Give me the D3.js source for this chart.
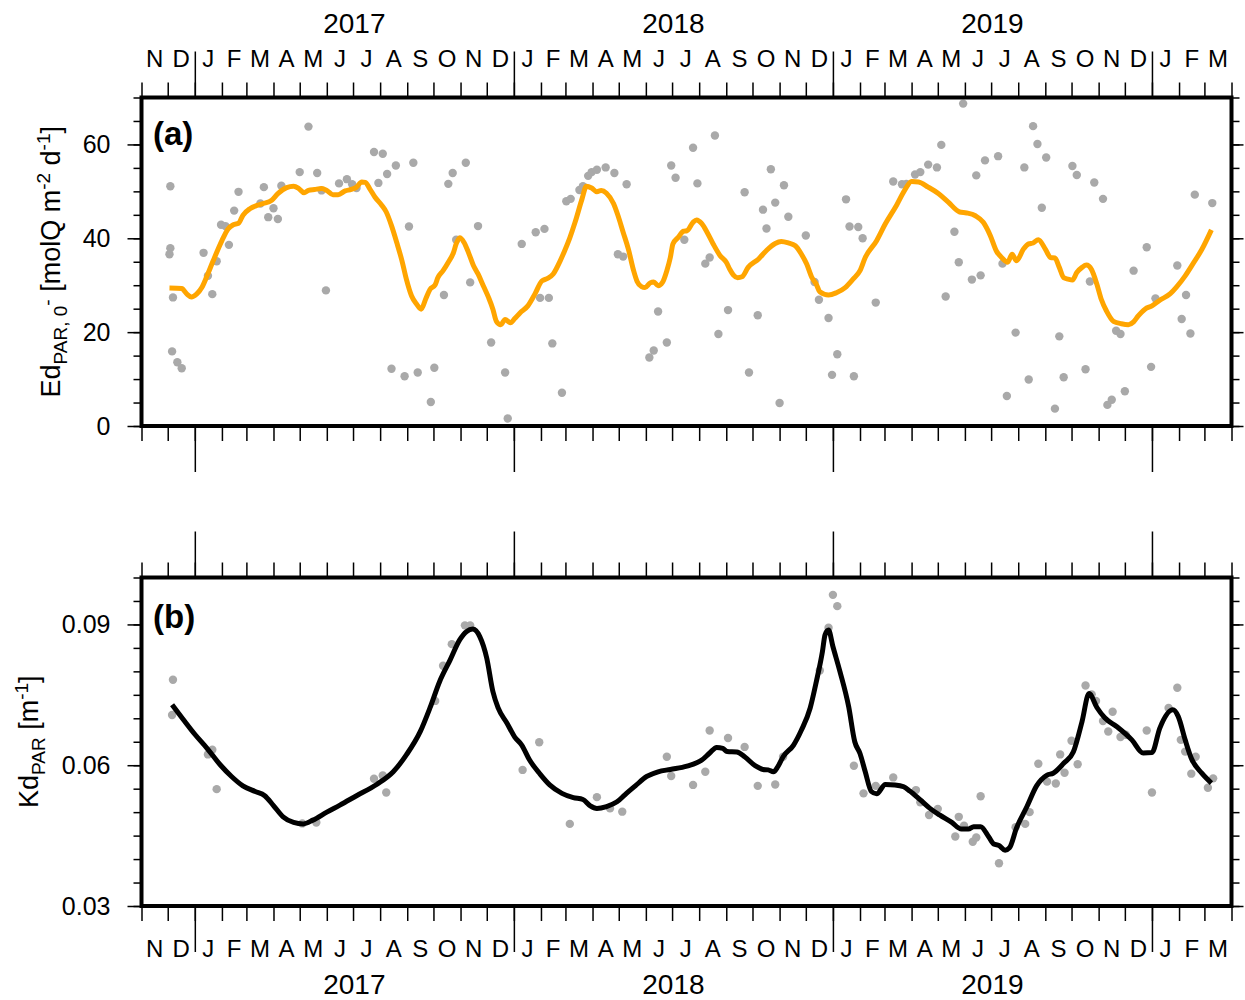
<!DOCTYPE html>
<html>
<head>
<meta charset="utf-8">
<script src="https://cdn.jsdelivr.net/npm/d3@7"></script>
<style>
    body { margin: 0; background: #fff; }
    svg { display: block; font-family: "Liberation Sans", Arial, Helvetica, sans-serif; }
</style>
</head>
<body>
<svg id="chart" width="1245" height="1000"></svg>
<script>
// Ed_PAR,0- : отдельные измерения (серые точки)
const edDotDates = [
    "2016-12-04", "2016-12-04", "2016-12-03", "2016-12-07", "2016-12-06", "2016-12-12", "2016-12-17",
    "2017-01-11", "2017-01-16", "2017-01-21", "2017-01-26", "2017-01-31", "2017-02-05", "2017-02-09",
    "2017-02-15", "2017-02-20", "2017-03-17", "2017-03-21", "2017-03-26", "2017-04-01", "2017-04-06",
    "2017-04-10", "2017-05-01", "2017-05-11", "2017-05-21", "2017-05-26", "2017-05-31", "2017-06-15",
    "2017-06-24", "2017-06-30", "2017-07-05", "2017-07-25", "2017-07-30", "2017-08-04", "2017-08-09",
    "2017-08-14", "2017-08-19", "2017-08-29", "2017-09-03", "2017-09-08", "2017-09-13", "2017-09-28",
    "2017-10-02", "2017-10-13", "2017-10-18", "2017-10-23", "2017-10-27", "2017-11-07", "2017-11-12",
    "2017-11-21", "2017-12-06", "2017-12-22", "2017-12-25", "2018-01-10", "2018-01-26", "2018-01-31",
    "2018-02-05", "2018-02-10", "2018-02-14", "2018-02-25", "2018-03-02", "2018-03-07", "2018-03-17",
    "2018-03-21", "2018-03-27", "2018-03-31", "2018-04-06", "2018-04-16", "2018-04-26", "2018-04-30",
    "2018-05-06", "2018-05-10", "2018-06-05", "2018-06-10", "2018-06-15", "2018-06-25", "2018-06-30",
    "2018-07-05", "2018-07-15", "2018-07-25", "2018-07-30", "2018-08-08", "2018-08-13", "2018-08-19",
    "2018-08-23", "2018-09-03", "2018-09-22", "2018-09-27", "2018-10-07", "2018-10-13", "2018-10-17",
    "2018-10-22", "2018-10-27", "2018-11-01", "2018-11-06", "2018-11-11", "2018-12-01", "2018-12-11",
    "2018-12-16", "2018-12-27", "2018-12-31", "2019-01-06", "2019-01-16", "2019-01-20", "2019-01-25",
    "2019-01-30", "2019-02-04", "2019-02-19", "2019-03-11", "2019-03-21", "2019-03-26", "2019-04-05",
    "2019-04-11", "2019-04-20", "2019-04-30", "2019-05-05", "2019-05-10", "2019-05-20", "2019-05-25",
    "2019-05-30", "2019-06-09", "2019-06-14", "2019-06-19", "2019-06-24", "2019-07-09", "2019-07-14",
    "2019-07-19", "2019-07-29", "2019-08-08", "2019-08-13", "2019-08-18", "2019-08-23", "2019-08-28",
    "2019-09-02", "2019-09-12", "2019-09-17", "2019-09-22", "2019-10-02", "2019-10-07", "2019-10-17",
    "2019-10-22", "2019-10-27", "2019-11-06", "2019-11-11", "2019-11-16", "2019-11-21", "2019-11-26",
    "2019-12-01", "2019-12-11", "2019-12-26", "2019-12-31", "2020-01-05", "2020-01-30", "2020-02-04",
    "2020-02-09", "2020-02-14", "2020-02-19", "2020-03-10"
];
const edDotValues = [
    51.1, 37.9, 36.6, 27.4, 15.9, 13.6, 12.3,
    36.9, 32.0, 28.1, 35.1, 42.9, 42.6, 38.6,
    45.9, 49.9, 47.4, 50.9, 44.5, 46.4, 44.1,
    51.2, 54.1, 63.8, 53.9, 50.2, 28.9, 51.7,
    52.6, 51.5, 50.7, 58.4, 51.8, 58.0, 53.7,
    12.2, 55.5, 10.6, 42.5, 56.1, 11.4, 5.1,
    12.4, 27.9, 51.6, 53.9, 39.7, 56.1, 30.6,
    42.6, 17.8, 11.4, 1.6, 38.8, 41.3, 27.3,
    42.0, 27.3, 17.6, 7.1, 47.9, 48.4, 50.3,
    51.1, 53.3, 54.1, 54.6, 55.1, 53.9, 36.6,
    36.1, 51.5, 14.6, 16.1, 24.4, 17.8, 55.5,
    52.9, 39.7, 59.3, 51.7, 34.6, 35.9, 61.9,
    19.6, 24.7, 49.8, 11.4, 23.6, 46.1, 42.1,
    54.7, 47.6, 4.9, 51.3, 44.6, 40.6, 30.7,
    26.9, 23.0, 10.9, 15.3, 48.3, 42.5, 10.6,
    42.4, 40.0, 26.3, 52.1, 51.5, 51.6, 53.6,
    54.1, 55.7, 55.1, 59.9, 27.6, 41.4, 34.9,
    68.7, 31.2, 53.4, 32.1, 56.6, 57.5, 34.6,
    6.4, 19.9, 55.1, 9.9, 63.9, 60.1, 46.5,
    57.2, 3.7, 19.1, 10.4, 55.4, 53.5, 12.1,
    30.8, 51.9, 48.4, 4.5, 5.6, 20.3, 19.6,
    7.4, 33.1, 38.1, 12.6, 27.2, 34.2, 22.8,
    27.9, 19.7, 49.3, 47.5
];

// Ed_PAR,0- : скользящее среднее (оранжевая линия)
const edLineDates = [
    "2016-12-03", "2016-12-17", "2016-12-23", "2016-12-28", "2017-01-03", "2017-01-09", "2017-01-15",
    "2017-01-22", "2017-02-01", "2017-02-08", "2017-02-14", "2017-02-20", "2017-02-25", "2017-03-05",
    "2017-03-13", "2017-03-20", "2017-03-30", "2017-04-06", "2017-04-16", "2017-04-24", "2017-04-30",
    "2017-05-06", "2017-05-11", "2017-05-18", "2017-05-26", "2017-06-01", "2017-06-08", "2017-06-14",
    "2017-06-22", "2017-06-29", "2017-07-05", "2017-07-11", "2017-07-15", "2017-07-20", "2017-07-26",
    "2017-08-03", "2017-08-08", "2017-08-14", "2017-08-20", "2017-08-26", "2017-08-31", "2017-09-06",
    "2017-09-12", "2017-09-17", "2017-09-22", "2017-09-27", "2017-10-03", "2017-10-06", "2017-10-12",
    "2017-10-18", "2017-10-24", "2017-10-27", "2017-10-31", "2017-11-05", "2017-11-10", "2017-11-16",
    "2017-11-21", "2017-11-27", "2017-12-03", "2017-12-08", "2017-12-12", "2017-12-17", "2017-12-22",
    "2017-12-28", "2018-01-02", "2018-01-08", "2018-01-17", "2018-01-25", "2018-02-02", "2018-02-08",
    "2018-02-15", "2018-02-23", "2018-02-28", "2018-03-06", "2018-03-12", "2018-03-20", "2018-03-25",
    "2018-03-31", "2018-04-06", "2018-04-11", "2018-04-17", "2018-04-25", "2018-04-30", "2018-05-06",
    "2018-05-12", "2018-05-18", "2018-05-22", "2018-05-27", "2018-05-31", "2018-06-06", "2018-06-10",
    "2018-06-15", "2018-06-20", "2018-06-25", "2018-06-29", "2018-07-02", "2018-07-08", "2018-07-14",
    "2018-07-18", "2018-07-25", "2018-07-29", "2018-08-04", "2018-08-10", "2018-08-17", "2018-08-25",
    "2018-09-01", "2018-09-05", "2018-09-09", "2018-09-14", "2018-09-19", "2018-09-26", "2018-10-08",
    "2018-10-17", "2018-10-27", "2018-11-03", "2018-11-11", "2018-11-19", "2018-11-26", "2018-12-02",
    "2018-12-08", "2018-12-13", "2018-12-17", "2018-12-27", "2019-01-05", "2019-01-15", "2019-01-24",
    "2019-02-01", "2019-02-07", "2019-02-20", "2019-03-02", "2019-03-15", "2019-03-24", "2019-04-01",
    "2019-04-09", "2019-04-20", "2019-05-02", "2019-05-13", "2019-05-26", "2019-06-03", "2019-06-13",
    "2019-06-22", "2019-06-30", "2019-07-07", "2019-07-13", "2019-07-20", "2019-07-25", "2019-07-30",
    "2019-08-07", "2019-08-13", "2019-08-18", "2019-08-24", "2019-09-01", "2019-09-07", "2019-09-12",
    "2019-09-17", "2019-09-22", "2019-09-27", "2019-10-02", "2019-10-07", "2019-10-13", "2019-10-18",
    "2019-10-24", "2019-10-30", "2019-11-04", "2019-11-10", "2019-11-18", "2019-11-27", "2019-12-05",
    "2019-12-11", "2019-12-16", "2019-12-24", "2020-01-01", "2020-01-10", "2020-01-22", "2020-01-29",
    "2020-02-08", "2020-02-17", "2020-02-27", "2020-03-09"
];
const edLineValues = [
    29.4, 29.3, 28.1, 27.5, 28.1, 29.5, 32.0,
    35.2, 39.5, 42.0, 42.9, 43.2, 44.9, 46.3,
    47.0, 47.4, 48.1, 49.5, 50.8, 51.1, 50.6,
    49.7, 50.2, 50.4, 50.6, 50.2, 49.3, 49.3,
    50.1, 50.4, 50.9, 52.0, 51.9, 50.6, 48.8,
    47.0, 45.6, 42.7, 39.1, 35.2, 31.3, 27.7,
    25.9, 24.9, 27.0, 29.1, 30.1, 31.6, 33.1,
    34.9, 37.0, 38.8, 40.1, 39.1, 37.0, 34.1,
    32.4, 29.9, 27.4, 24.9, 22.3, 21.6, 22.7,
    22.0, 22.9, 24.1, 25.6, 28.1, 30.9, 31.4,
    32.4, 35.2, 37.3, 40.1, 43.4, 48.4, 51.1,
    50.7, 49.9, 50.2, 49.6, 47.4, 44.9, 41.3,
    37.7, 33.1, 30.8, 29.7, 29.5, 30.5, 30.7,
    29.9, 30.6, 33.1, 35.9, 38.8, 40.2, 41.5,
    41.6, 43.4, 43.9, 43.1, 41.3, 38.8, 36.3,
    34.9, 33.4, 32.2, 31.6, 31.8, 33.8, 35.6,
    37.4, 38.9, 39.3, 39.0, 38.4, 36.6, 34.5,
    31.6, 30.2, 28.6, 27.9, 28.4, 29.5, 31.3,
    33.1, 35.9, 39.5, 43.1, 47.1, 50.2, 52.1,
    52.0, 50.9, 49.5, 47.7, 45.6, 45.4, 44.8,
    43.4, 40.6, 37.3, 35.9, 34.9, 36.6, 35.2,
    37.7, 38.8, 39.0, 39.7, 37.7, 35.9, 35.8,
    33.8, 31.6, 31.3, 31.1, 32.7, 33.8, 34.3,
    33.3, 30.2, 27.0, 24.5, 22.3, 21.8, 21.6,
    22.2, 23.4, 24.9, 25.6, 26.8, 28.2, 29.6,
    32.0, 34.6, 37.6, 41.8
];

// Kd_PAR : отдельные измерения
const kdDotDates = [
    "2016-12-07", "2016-12-06", "2017-01-16", "2017-01-21", "2017-01-26", "2017-05-04", "2017-05-20",
    "2017-07-25", "2017-08-04", "2017-08-08", "2017-10-03", "2017-10-12", "2017-10-22", "2017-11-06",
    "2017-11-12", "2018-01-11", "2018-01-30", "2018-03-06", "2018-04-06", "2018-04-21", "2018-05-05",
    "2018-06-25", "2018-06-30", "2018-07-25", "2018-08-08", "2018-08-13", "2018-09-03", "2018-09-22",
    "2018-10-07", "2018-10-27", "2018-11-05", "2018-12-17", "2018-12-27", "2019-01-01", "2019-01-06",
    "2019-01-25", "2019-02-05", "2019-02-19", "2019-03-11", "2019-04-06", "2019-04-11", "2019-04-21",
    "2019-05-01", "2019-05-21", "2019-05-25", "2019-05-31", "2019-06-10", "2019-06-14", "2019-06-19",
    "2019-07-10", "2019-07-29", "2019-08-09", "2019-08-14", "2019-08-24", "2019-09-03", "2019-09-13",
    "2019-09-18", "2019-09-23", "2019-10-01", "2019-10-08", "2019-10-17", "2019-10-24", "2019-10-29",
    "2019-11-06", "2019-11-12", "2019-11-17", "2019-11-26", "2019-12-02", "2019-12-26", "2020-01-01",
    "2020-01-20", "2020-01-30", "2020-02-03", "2020-02-08", "2020-02-15", "2020-02-20", "2020-03-05",
    "2020-03-11"
];
const kdDotValues = [
    0.0782, 0.0707, 0.0623, 0.0633, 0.0549, 0.0476, 0.0478,
    0.0571, 0.0578, 0.0542, 0.0737, 0.0812, 0.0858, 0.0898,
    0.0898, 0.0590, 0.0649, 0.0475, 0.0532, 0.0508, 0.0501,
    0.0618, 0.0577, 0.0558, 0.0586, 0.0674, 0.0658, 0.0639,
    0.0556, 0.0559, 0.0618, 0.0802, 0.0893, 0.0963, 0.0939,
    0.0599, 0.0540, 0.0556, 0.0574, 0.0547, 0.0521, 0.0494,
    0.0507, 0.0448, 0.0490, 0.0471, 0.0437, 0.0446, 0.0534,
    0.0391, 0.0468, 0.0475, 0.0500, 0.0603, 0.0565, 0.0561,
    0.0623, 0.0584, 0.0652, 0.0602, 0.0770, 0.0751, 0.0737,
    0.0694, 0.0672, 0.0714, 0.0660, 0.0665, 0.0674, 0.0542,
    0.0722, 0.0765, 0.0654, 0.0629, 0.0582, 0.0618, 0.0552,
    0.0572
];

// Kd_PAR : сглаженная кривая (чёрная линия)
const kdLineDates = [
    "2016-12-06", "2016-12-19", "2017-01-01", "2017-01-15", "2017-01-30", "2017-02-12", "2017-02-25",
    "2017-03-11", "2017-03-22", "2017-04-01", "2017-04-12", "2017-04-24", "2017-05-05", "2017-05-16",
    "2017-06-01", "2017-06-16", "2017-07-05", "2017-07-28", "2017-08-16", "2017-08-31", "2017-09-16",
    "2017-09-27", "2017-10-08", "2017-10-20", "2017-10-31", "2017-11-08", "2017-11-15", "2017-11-23",
    "2017-12-01", "2017-12-08", "2017-12-14", "2017-12-24", "2018-01-02", "2018-01-10", "2018-01-19",
    "2018-01-31", "2018-02-11", "2018-02-25", "2018-03-10", "2018-03-21", "2018-03-29", "2018-04-06",
    "2018-04-17", "2018-04-29", "2018-05-08", "2018-05-20", "2018-06-02", "2018-06-15", "2018-06-29",
    "2018-07-18", "2018-08-04", "2018-08-13", "2018-08-21", "2018-08-28", "2018-09-02", "2018-09-13",
    "2018-09-22", "2018-10-04", "2018-10-13", "2018-10-19", "2018-10-25", "2018-10-30", "2018-11-05",
    "2018-11-17", "2018-11-26", "2018-12-06", "2018-12-13", "2018-12-20", "2018-12-23", "2018-12-27",
    "2019-01-01", "2019-01-09", "2019-01-19", "2019-01-26", "2019-02-01", "2019-02-07", "2019-02-14",
    "2019-02-20", "2019-03-02", "2019-03-13", "2019-03-23", "2019-03-30", "2019-04-11", "2019-04-22",
    "2019-05-03", "2019-05-17", "2019-05-28", "2019-06-05", "2019-06-11", "2019-06-19", "2019-06-28",
    "2019-07-04", "2019-07-10", "2019-07-17", "2019-07-22", "2019-07-30", "2019-08-11", "2019-08-22",
    "2019-09-03", "2019-09-10", "2019-09-22", "2019-10-03", "2019-10-13", "2019-10-21", "2019-10-30",
    "2019-11-08", "2019-11-22", "2019-12-09", "2019-12-22", "2020-01-01", "2020-01-10", "2020-01-25",
    "2020-01-31", "2020-02-08", "2020-02-15", "2020-02-27", "2020-03-09"
];
const kdLineValues = [
    0.0729, 0.0697, 0.0666, 0.0636, 0.0601, 0.0576, 0.0556,
    0.0544, 0.0535, 0.0514, 0.0490, 0.0478, 0.0475, 0.0483,
    0.0500, 0.0515, 0.0535, 0.0559, 0.0586, 0.0622, 0.0672,
    0.0722, 0.0778, 0.0824, 0.0867, 0.0885, 0.0890, 0.0874,
    0.0828, 0.0757, 0.0722, 0.0690, 0.0660, 0.0643, 0.0611,
    0.0581, 0.0558, 0.0540, 0.0531, 0.0527, 0.0514, 0.0508,
    0.0512, 0.0522, 0.0537, 0.0556, 0.0576, 0.0586, 0.0591,
    0.0598, 0.0611, 0.0626, 0.0638, 0.0636, 0.0629, 0.0628,
    0.0618, 0.0599, 0.0591, 0.0590, 0.0586, 0.0597, 0.0618,
    0.0643, 0.0675, 0.0722, 0.0778, 0.0842, 0.0878, 0.0888,
    0.0853, 0.0800, 0.0725, 0.0650, 0.0625, 0.0586, 0.0544,
    0.0539, 0.0559, 0.0558, 0.0554, 0.0545, 0.0526, 0.0508,
    0.0494, 0.0478, 0.0464, 0.0464, 0.0469, 0.0469, 0.0448,
    0.0432, 0.0429, 0.0419, 0.0424, 0.0466, 0.0512, 0.0556,
    0.0579, 0.0583, 0.0604, 0.0628, 0.0693, 0.0753, 0.0723,
    0.0701, 0.0682, 0.0654, 0.0626, 0.0627, 0.0679, 0.0718,
    0.0704, 0.0654, 0.0615, 0.0583, 0.0562
];

const monthLetters = ["J", "F", "M", "A", "M", "J", "J", "A", "S", "O", "N", "D"];
const yearLabels = [2017, 2018, 2019];
const edTicks = [0, 20, 40, 60];
const kdTicks = [0.03, 0.06, 0.09];

const parseDate = d3.utcParse("%Y-%m-%d");
const startDate = new Date(Date.UTC(2016, 10, 1));
const endDate = new Date(Date.UTC(2020, 3, 1));

const area = { left: 141.5, right: 1231.5 };
const svg = d3.select("#chart");

const scaleX = d3.scaleUtc()
    .domain([startDate, endDate])
    .range([area.left, area.right]);

const monthTicks = d3.utcMonth.range(startDate, d3.utcDay.offset(endDate, 1));
const yearTicks = d3.utcYear.range(startDate, endDate);

function toPoints(dates, values) {
    return dates.map((d, i) => ({ date: parseDate(d), value: values[i] }));
}

function styleAxis(g) {
    g.select(".domain").remove();
    g.selectAll(".tick line").attr("stroke", "#000").attr("stroke-width", 1.5);
    g.selectAll(".tick text")
        .attr("fill", "#000")
        .style("font-size", "25px")
        .style("font-family", "'Liberation Sans', Arial, sans-serif");
}

function drawTimeTicks(yPos, direction) {
    const axisFn = direction === "up" ? d3.axisTop : d3.axisBottom;

    svg.append("g")
        .attr("transform", `translate(0, ${yPos})`)
        .call(axisFn(scaleX).tickValues(monthTicks).tickSize(15).tickFormat(""))
        .call(styleAxis);

    svg.append("g")
        .attr("transform", `translate(0, ${yPos})`)
        .call(axisFn(scaleX).tickValues(yearTicks).tickSize(46).tickFormat(""))
        .call(styleAxis);
}

function drawMonthLabels(baseline, yearBaseline) {
    const months = d3.utcMonth.range(startDate, endDate);

    svg.append("g")
        .selectAll("text")
        .data(months)
        .enter()
        .append("text")
        .attr("x", d => (scaleX(d) + scaleX(d3.utcMonth.offset(d, 1))) / 2)
        .attr("y", baseline)
        .attr("text-anchor", "middle")
        .style("font-size", "24px")
        .text(d => monthLetters[d.getUTCMonth()]);

    svg.append("g")
        .selectAll("text")
        .data(yearLabels)
        .enter()
        .append("text")
        .attr("x", d => (scaleX(new Date(Date.UTC(d, 0, 1))) + scaleX(new Date(Date.UTC(d + 1, 0, 1)))) / 2)
        .attr("y", yearBaseline)
        .attr("text-anchor", "middle")
        .style("font-size", "28px")
        .text(d => d);
}

function drawPanel(panel) {
    const scaleY = d3.scaleLinear()
        .domain(panel.domain)
        .range([panel.bottom, panel.top]);

    const dots = toPoints(panel.dotDates, panel.dotValues);
    const linePoints = toPoints(panel.lineDates, panel.lineValues);

    svg.append("g")
        .selectAll("circle")
        .data(dots)
        .enter()
        .append("circle")
        .attr("cx", d => scaleX(d.date))
        .attr("cy", d => scaleY(d.value))
        .attr("r", 4.2)
        .attr("fill", "#a9a9a9");

    const line = d3.line()
        .x(d => scaleX(d.date))
        .y(d => scaleY(d.value))
        .curve(d3.curveMonotoneX);

    svg.append("path")
        .datum(linePoints)
        .attr("fill", "none")
        .attr("stroke", panel.lineColor)
        .attr("stroke-width", 5)
        .attr("stroke-linejoin", "round")
        .attr("d", line);

    // левая ось: подписи + мелкие засечки
    svg.append("g")
        .attr("transform", `translate(${area.left}, 0)`)
        .call(d3.axisLeft(scaleY).tickValues(panel.ticks).tickSize(14).tickPadding(17).tickFormat(panel.format))
        .call(styleAxis);

    svg.append("g")
        .attr("transform", `translate(${area.left}, 0)`)
        .call(d3.axisLeft(scaleY).tickValues(panel.minorTicks).tickSize(8).tickFormat(""))
        .call(styleAxis);

    // правая ось без подписей
    svg.append("g")
        .attr("transform", `translate(${area.right}, 0)`)
        .call(d3.axisRight(scaleY).tickValues(panel.ticks).tickSize(12).tickFormat(""))
        .call(styleAxis);

    svg.append("g")
        .attr("transform", `translate(${area.right}, 0)`)
        .call(d3.axisRight(scaleY).tickValues(panel.minorTicks).tickSize(8).tickFormat(""))
        .call(styleAxis);

    drawTimeTicks(panel.top, "up");
    drawTimeTicks(panel.bottom, "down");

    svg.append("rect")
        .attr("x", area.left)
        .attr("y", panel.top)
        .attr("width", area.right - area.left)
        .attr("height", panel.bottom - panel.top)
        .attr("fill", "none")
        .attr("stroke", "#000")
        .attr("stroke-width", 4);

    svg.append("text")
        .attr("x", 153)
        .attr("y", panel.labelY)
        .style("font-size", "33px")
        .style("font-weight", "bold")
        .text(panel.label);

    const title = svg.append("text")
        .attr("transform", `translate(${panel.titleX}, ${(panel.top + panel.bottom) / 2}) rotate(-90)`)
        .attr("text-anchor", "middle")
        .style("font-size", "27px");

    panel.titleParts.forEach(p => {
        title.append("tspan")
            .attr("dy", p.dy)
            .style("font-size", p.size ? p.size + "px" : null)
            .text(p.text);
    });
}

drawPanel({
    top: 97.5,
    bottom: 426,
    domain: [0, 70],
    ticks: edTicks,
    minorTicks: d3.range(0, 71, 5),
    format: d3.format("d"),
    dotDates: edDotDates,
    dotValues: edDotValues,
    lineDates: edLineDates,
    lineValues: edLineValues,
    lineColor: "#ffa500",
    label: "(a)",
    labelY: 145,
    titleX: 60,
    titleParts: [
        { text: "Ed", dy: 0 },
        { text: "PAR, 0", dy: 7, size: 19 },
        { text: "-", dy: -13, size: 19 },
        { text: " [molQ m", dy: 6 },
        { text: "-2", dy: -10, size: 19 },
        { text: " d", dy: 10 },
        { text: "-1", dy: -10, size: 19 },
        { text: "]", dy: 10 }
    ]
});

drawPanel({
    top: 577.5,
    bottom: 906,
    domain: [0.03, 0.1],
    ticks: kdTicks,
    minorTicks: d3.range(6, 21).map(d => d * 0.005),
    format: d3.format(".2f"),
    dotDates: kdDotDates,
    dotValues: kdDotValues,
    lineDates: kdLineDates,
    lineValues: kdLineValues,
    lineColor: "#000",
    label: "(b)",
    labelY: 628,
    titleX: 38,
    titleParts: [
        { text: "Kd", dy: 0 },
        { text: "PAR", dy: 7, size: 19 },
        { text: " [m", dy: -7 },
        { text: "-1", dy: -10, size: 19 },
        { text: "]", dy: 10 }
    ]
});

drawMonthLabels(67, 33);
drawMonthLabels(957, 994);
</script>
</body>
</html>
